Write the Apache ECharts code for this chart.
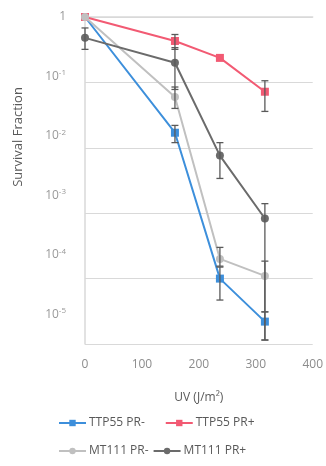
<!DOCTYPE html>
<html>
<head>
<meta charset="utf-8">
<script src="https://cdn.jsdelivr.net/npm/echarts@6/dist/echarts.min.js"></script>
<style>
  html, body { margin: 0; padding: 0; background: #fff; }
  #chart { width: 326px; height: 466px; }
</style>
</head>
<body>
<div id="chart"></div>
<script>
// UV dose (J/m2)
const doses = [0, 158, 237, 316]
const seriesNames = ['TTP55 PR-', 'TTP55 PR+', 'MT111 PR-', 'MT111 PR+']

// survival fraction
const ttp55Minus = [1, 0.017, 1.0e-4, 2.2e-5]
const ttp55Plus = [1, 0.43, 0.237, 0.072]
const mt111Minus = [1, 0.06, 2.0e-4, 1.1e-4]
const mt111Plus = [0.48, 0.2, 0.0076, 8.3e-4]

// error bars [low, high] per dose, null = none
const ttp55MinusErr = [null, [0.012, 0.022], [4.7e-5, 1.5e-4], [1.15e-5, 3.1e-5]]
const ttp55PlusErr = [null, [0.32, 0.54], null, [0.036, 0.106]]
const mt111MinusErr = [null, [0.04, 0.085], [1.55e-4, 3.0e-4], [3.1e-5, 1.85e-4]]
const mt111PlusErr = [[0.32, 0.68], [0.078, 0.34], [0.0034, 0.012], [1.15e-5, 1.4e-3]]

// y tick labels (exponents)
const yTickExp = [0, 1, 2, 3, 4, 5]

const colors = ['#3d8fdb', '#f25a73', '#c0c0c0', '#6b6b6b']
const allValues = [ttp55Minus, ttp55Plus, mt111Minus, mt111Plus]
const allErrs = [ttp55MinusErr, ttp55PlusErr, mt111MinusErr, mt111PlusErr]
const symbols = ['rect', 'rect', 'circle', 'circle']

const chart = echarts.init(document.getElementById('chart'))

const errData = []
allErrs.forEach((errs) => {
  errs.forEach((e, i) => {
    if (e) errData.push([doses[i], e[0], e[1]])
  })
})

const lineSeries = allValues.map((vals, k) => ({
  name: seriesNames[k],
  type: 'line',
  xAxisIndex: 0,
  yAxisIndex: 0,
  data: vals.map((v, i) => [doses[i], v]),
  symbol: symbols[k],
  symbolSize: 8,
  lineStyle: { color: colors[k], width: 2 },
  itemStyle: { color: colors[k] },
  z: 3 + k
}))

const legendText = { color: '#595959', fontSize: 12, padding: [0, 0, 0, -2] }

const option = {
  animation: false,
  textStyle: { fontFamily: 'Open Sans' },
  grid: { left: 85, right: 13, top: 17, bottom: 122 },
  legend: [
    {
      data: seriesNames.slice(0, 2),
      left: 53,
      top: 412,
      itemWidth: 27,
      itemHeight: 8,
      itemGap: 20,
      textStyle: legendText
    },
    {
      data: seriesNames.slice(2),
      left: 53,
      top: 440,
      itemWidth: 27,
      itemHeight: 8,
      itemGap: 4,
      textStyle: legendText
    }
  ],
  xAxis: {
    type: 'value',
    min: 0,
    max: 400,
    interval: 100,
    name: 'UV (J/m²)',
    nameLocation: 'middle',
    nameGap: 48,
    nameTextStyle: { color: '#595959', fontSize: 12 },
    axisLine: { show: true, lineStyle: { color: '#d9d9d9', width: 1.5 } },
    axisTick: { show: false },
    splitLine: { show: false },
    axisLabel: { color: '#8c8c8c', fontSize: 12, margin: 15 }
  },
  yAxis: [
    {
      type: 'log',
      logBase: 10,
      min: 1e-5,
      max: 1,
      axisLine: { show: true, lineStyle: { color: '#d9d9d9', width: 1.5 } },
      axisTick: { show: false },
      axisLabel: { show: false },
      splitLine: { show: true, lineStyle: { color: '#d9d9d9', width: 1.2 } }
    },
    {
      // label axis: evenly spaced decade labels as in the figure
      type: 'value',
      inverse: true,
      min: 0,
      max: 5.5,
      position: 'left',
      axisLine: { show: false },
      axisTick: { show: false },
      splitLine: { show: false },
      axisLabel: {
        customValues: yTickExp,
        color: '#999999',
        fontSize: 12,
        margin: 19,
        formatter: (v) => (v === 0 ? '1' : '10{s|-' + v + '}'),
        rich: {
          s: { fontSize: 8, color: '#999999', verticalAlign: 'top', padding: [0, 0, 7, 0] }
        }
      }
    }
  ],
  graphic: [
    {
      type: 'text',
      x: 18,
      y: 137,
      rotation: Math.PI / 2,
      style: {
        text: 'Survival Fraction',
        fill: '#595959',
        font: '13px "Open Sans"',
        align: 'center',
        verticalAlign: 'middle'
      }
    }
  ],
  series: [
    ...lineSeries,
    {
      name: 'err',
      type: 'custom',
      xAxisIndex: 0,
      yAxisIndex: 0,
      clip: false,
      z: 10,
      data: errData,
      renderItem: (params, api) => {
        const x = api.value(0)
        const lo = api.coord([x, api.value(1)])
        const hi = api.coord([x, api.value(2)])
        const w = 3.5
        const style = { stroke: '#5a5a5a', lineWidth: 1.3 }
        return {
          type: 'group',
          children: [
            { type: 'line', shape: { x1: lo[0], y1: lo[1], x2: hi[0], y2: hi[1] }, style },
            { type: 'line', shape: { x1: lo[0] - w, y1: lo[1], x2: lo[0] + w, y2: lo[1] }, style },
            { type: 'line', shape: { x1: hi[0] - w, y1: hi[1], x2: hi[0] + w, y2: hi[1] }, style }
          ]
        }
      }
    }
  ]
}

chart.setOption(option)
</script>
</body>
</html>
